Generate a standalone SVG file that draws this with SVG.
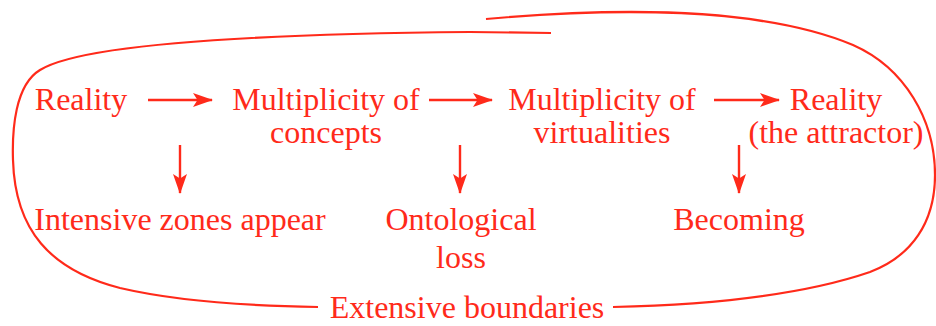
<svg xmlns="http://www.w3.org/2000/svg" width="936" height="326" viewBox="0 0 936 326">
<style>
text{font-family:"Liberation Serif","Times New Roman",serif;font-size:32px;fill:#ff2a1a;text-anchor:middle}
.ln{stroke:#ff2a1a;stroke-width:2.4;fill:none}
.loop{stroke:#ff2a1a;stroke-width:2.2;fill:none}
</style>
<defs>
<marker id="ah" markerUnits="userSpaceOnUse" markerWidth="22" markerHeight="16" refX="19" refY="7.5" orient="auto">
<path d="M0,0.5 L20,7.5 L0,14.5 L4.5,7.5 z" fill="#ff2a1a"/>
</marker>
</defs>
<rect width="936" height="326" fill="#fff"/>
<g id="connectors">
<path class="ln" d="M148 100 H212" marker-end="url(#ah)"/>
<path class="ln" d="M429 100 H492" marker-end="url(#ah)"/>
<path class="ln" d="M714 100 H779" marker-end="url(#ah)"/>
<path class="ln" d="M180 145 V193" marker-end="url(#ah)"/>
<path class="ln" d="M460 145 V193" marker-end="url(#ah)"/>
<path class="ln" d="M739 145 V193" marker-end="url(#ah)"/>
<path class="loop" d="M551 33 L470 32 C250 34 80 45 40 70 C15 85 12 130 13 160 C15 230 50 270 120 288 C180 302 250 306 318 307"/>
<path class="loop" d="M486 19 C610 8 760 6 853 45 C905 68 935 120 935 175 C935 222 912 256 870 272 C800 296 700 305 613 307"/>
</g>
<g id="n-reality"><text x="81" y="110">Reality</text></g>
<g id="n-concepts"><text x="326" y="110">Multiplicity of</text><text x="326" y="143">concepts</text></g>
<g id="n-virtualities"><text x="602" y="110">Multiplicity of</text><text x="602" y="143">virtualities</text></g>
<g id="n-attractor"><text x="836" y="110">Reality</text><text x="836" y="143">(the attractor)</text></g>
<g id="n-intensive"><text x="180" y="230">Intensive zones appear</text></g>
<g id="n-ontological"><text x="461" y="230">Ontological</text><text x="461" y="268">loss</text></g>
<g id="n-becoming"><text x="739" y="230">Becoming</text></g>
<g id="n-extensive"><text x="467" y="318">Extensive boundaries</text></g>
</svg>
